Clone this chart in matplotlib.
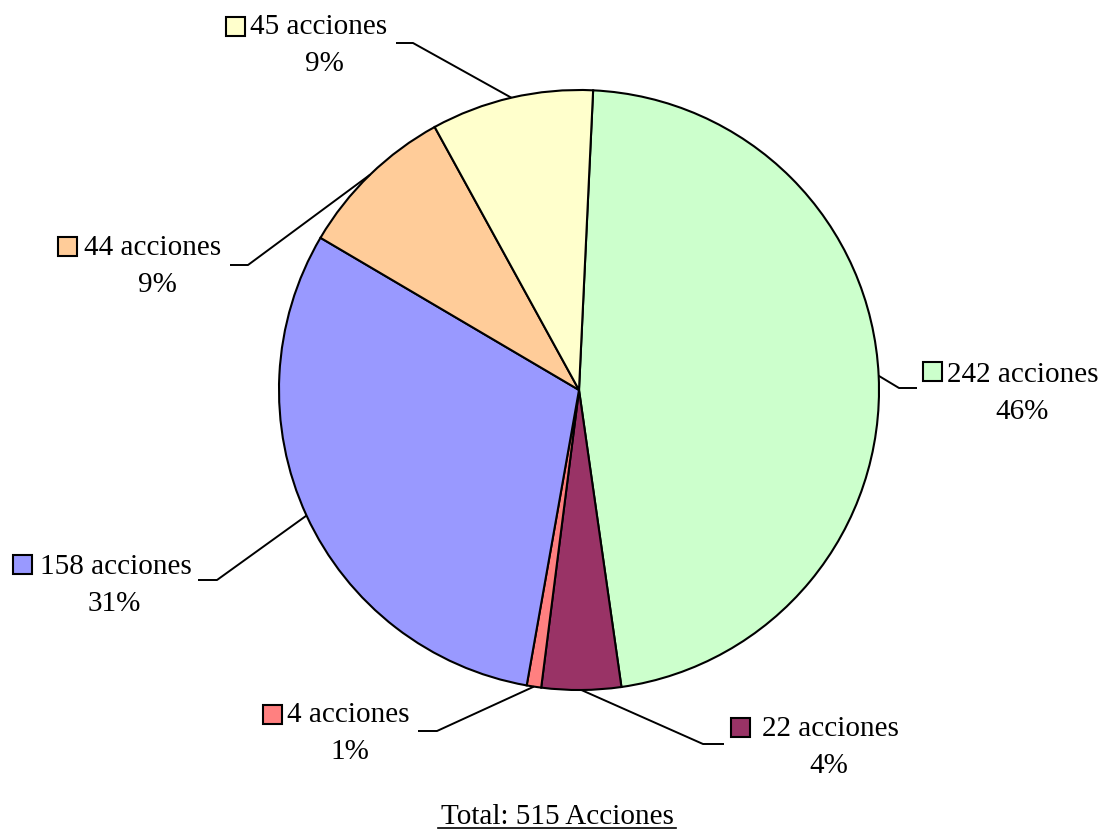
import numpy as np
import matplotlib
matplotlib.use("Agg")
import matplotlib.pyplot as plt
from matplotlib.patches import Rectangle

plt.rcParams['font.family'] = ['Liberation Serif', 'DejaVu Serif']

# data (clockwise from top)
counts = [242, 22, 4, 158, 44, 45]
pcts = ["46%", "4%", "1%", "31%", "9%", "9%"]
colors = ["#CCFFCC", "#993366", "#FF8080", "#9999FF", "#FFCC99", "#FFFFCC"]
total_label = "Total: 515 Acciones"

W, H = 1103, 831
fig = plt.figure(figsize=(W / 100, H / 100), dpi=100)
ax = fig.add_axes([0, 0, 1, 1])
ax.set_xlim(0, W)
ax.set_ylim(0, H)
ax.set_aspect('equal')
ax.axis('off')

def py(y):
    return H - y

cx, cy, r = 579, 390, 300
wedges, _ = ax.pie(counts, colors=colors, startangle=87.3, counterclock=False,
                   center=(cx, py(cy)), radius=r, frame=True,
                   wedgeprops=dict(edgecolor='black', linewidth=1.5))
ax.set_xlim(0, W)
ax.set_ylim(0, H)
ax.axis('off')

# label layout (pixel coords): text left, baseline, pct center, square top-left, elbow, end
layout = [
    (947, 382, 1022, (923, 362), (899, 388), (917, 388)),
    (762, 736, 829, (731, 718), (703, 744), (724, 744)),
    (287, 722, 350, (263, 705), (437, 731), (418, 731)),
    (40, 574, 114, (13, 555), (217, 580), (198, 580)),
    (84, 255, 157, (58, 237), (248, 265), (230, 265)),
    (250, 34, 324, (226, 17), (413, 43), (396, 43)),
]
fs = 21
for w, n, p, c, lay in zip(wedges, counts, pcts, colors, layout):
    tx, base, pcx, sq, elbow, end = lay
    mid = np.deg2rad((w.theta1 + w.theta2) / 2)
    sx = cx + r * np.cos(mid)
    sy = py(cy) + r * np.sin(mid)
    ax.plot([sx, elbow[0], end[0]], [sy, py(elbow[1]), py(end[1])],
            color='black', lw=1.4, solid_capstyle='butt')
    ax.add_patch(Rectangle((sq[0], py(sq[1] + 19)), 19, 19,
                           facecolor=c, edgecolor='black', lw=1.5))
    ax.text(tx, py(base), f"{n} acciones", fontsize=fs, ha='left', va='baseline')
    ax.text(pcx, py(base + 37), p, fontsize=fs, ha='center', va='baseline')

ax.text(557, py(824), total_label, fontsize=fs, ha='center', va='baseline')
ax.plot([438, 676], [py(828), py(828)], color='black', lw=1.2)

fig.savefig("out.png", dpi=100)
